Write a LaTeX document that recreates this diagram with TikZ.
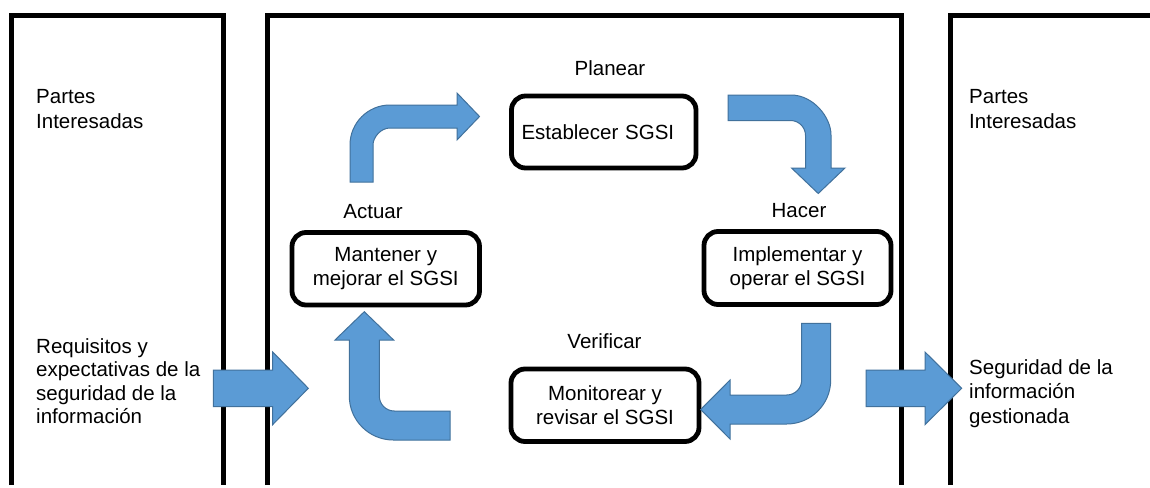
\documentclass[tikz,border=0pt]{standalone}
\usepackage{fontspec}
\setmainfont{Liberation Sans}
\definecolor{arrowfill}{HTML}{5B9BD5}
\definecolor{arrowline}{HTML}{41719C}
\newcommand\txtfont[1]{\fontsize{20.5pt}{#1}\selectfont}
\begin{document}
\begin{tikzpicture}[x=1pt,y=-1pt,
  panel/.style={draw=black, line width=5pt, line join=miter},
  stage/.style={draw=black, line width=4.8pt, rounded corners=14pt,
    minimum width=187pt, minimum height=72.5pt, inner sep=0pt,
    align=center, font=\txtfont{24.5pt}},
  heading/.style={anchor=base, inner sep=0pt, font=\txtfont{24.5pt}},
  sidetext/.style={anchor=north west, inner sep=0pt, align=left},
  blockarrow/.style={fill=arrowfill, draw=arrowline, line width=1pt, line join=miter}]

\useasboundingbox (0,0) rectangle (1150,487);
\fill[white] (0,0) rectangle (1150,487);
\clip (0,0) rectangle (1150,487);

% three open panels
\draw[panel] (11,485) -- (11,15.5) -- (223,15.5) -- (223,485);
\draw[panel] (267.5,485) -- (267.5,15.5) -- (901.5,15.5) -- (901.5,485);
\draw[panel] (950.5,485) -- (950.5,15.5) -- (1160,15.5);

% side texts
\node[sidetext, font=\txtfont{25pt}] (pi1) at (36,89.3) {Partes\\Interesadas};
\node[sidetext, font=\txtfont{25pt}] (pi2) at (969,89.3) {Partes\\Interesadas};
\node[sidetext, font=\txtfont{23.5pt}] (req) at (36,338.3)
  {Requisitos y\\expectativas de la\\seguridad de la\\información};
\node[sidetext, font=\txtfont{24.5pt}] (out) at (969,359)
  {Seguridad de la\\información\\gestionada};

% PDCA stages
\node[heading] (hplan) at (610,75) {Planear};
\node[heading] (hact) at (373,218) {Actuar};
\node[heading] (hdo) at (799,217) {Hacer};
\node[heading] (hcheck) at (604.5,348.5) {Verificar};

\node[stage, minimum width=184.5pt, minimum height=72pt, text width=164.5pt,
  align=left, inner xsep=10pt] (plan) at (603.75,132) {Establecer SGSI};
\node[stage, minimum width=187.5pt] (act) at (385.75,268.75) {Mantener y\\mejorar el SGSI};
\node[stage, minimum height=73pt] (do) at (797.5,268) {Implementar y\\operar el SGSI};
\node[stage, minimum width=188pt] (check) at (605,405.25) {Monitorear y\\revisar el SGSI};

% bent block arrows of the cycle
\filldraw[blockarrow] (350,182) -- (350,145) .. controls (350,122.9) and (367.9,105) .. (390,105)
  -- (457,105) -- (457,93) -- (479.5,116.5) -- (457,140) -- (457,128) -- (390,128)
  .. controls (380.6,128) and (373,137.4) .. (373,145) -- (373,182) -- cycle;

\filldraw[blockarrow] (728,95) -- (791,95) .. controls (813.1,95) and (831,117.1) .. (831,135)
  -- (831,168) -- (845,168) -- (818.25,193.5) -- (791.5,168) -- (805.5,168) -- (805.5,135.5)
  .. controls (805.5,127.2) and (798.8,120.5) .. (790.5,120.5) -- (728,120.5) -- cycle;

\filldraw[blockarrow] (801.7,323.3) -- (830.7,323.3) -- (830.7,380)
  .. controls (830.7,404.3) and (811,424) .. (786.7,424) -- (730,424) -- (730,439)
  -- (700.7,409.5) -- (730,380) -- (730,395) -- (786.7,395)
  .. controls (795,395) and (801.7,388.3) .. (801.7,380) -- cycle;

\filldraw[blockarrow] (450,440) -- (393.3,440) .. controls (369,440) and (349.3,420.3) .. (349.3,396)
  -- (349.3,340) -- (335,340) -- (364.3,311.7) -- (393.6,340) -- (379.3,340) -- (379.3,396)
  .. controls (379.3,404.3) and (386,411) .. (394.3,411) -- (450,411) -- cycle;

% input and output block arrows
\filldraw[blockarrow] (213.3,370) -- (272.7,370) -- (272.7,352) -- (308.3,388.3)
  -- (272.7,424.6) -- (272.7,406.7) -- (213.3,406.7) -- cycle;
\filldraw[blockarrow] (866,370) -- (925,370) -- (925,352) -- (961.7,388.3)
  -- (925,424.6) -- (925,406.7) -- (866,406.7) -- cycle;
\end{tikzpicture}
\end{document}
